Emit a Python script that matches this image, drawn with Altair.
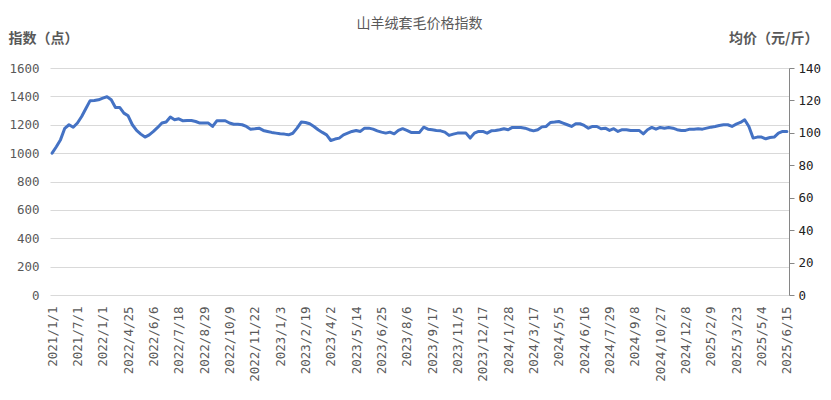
import altair as alt
import pandas as pd

tick_labels = ["2021/1/1", "2021/7/1", "2022/1/1", "2022/4/25", "2022/6/6", "2022/7/18",
               "2022/8/29", "2022/10/9", "2022/11/22", "2023/1/3", "2023/2/19", "2023/4/2",
               "2023/5/14", "2023/6/25", "2023/8/6", "2023/9/17", "2023/11/5", "2023/12/17",
               "2024/1/28", "2024/3/17", "2024/5/5", "2024/6/16", "2024/7/29", "2024/9/8",
               "2024/10/27", "2024/12/8", "2025/2/9", "2025/3/23", "2025/5/4", "2025/6/15"]

index_values = [
    1000, 1045, 1095, 1175, 1200, 1182, 1212, 1258, 1315, 1370,
    1371, 1376, 1388, 1397, 1376, 1322, 1322, 1282, 1263, 1200,
    1160, 1134, 1113, 1129, 1153, 1181, 1212, 1219, 1254, 1235,
    1242, 1228, 1230, 1230, 1223, 1212, 1212, 1212, 1188, 1228,
    1228, 1228, 1212, 1204, 1204, 1200, 1188, 1169, 1172, 1176,
    1160, 1153, 1146, 1141, 1136, 1134, 1129, 1140, 1176, 1219,
    1216, 1207, 1188, 1165, 1146, 1129, 1089, 1099, 1106, 1129,
    1141, 1153, 1160, 1153, 1176, 1176, 1169, 1157, 1148, 1141,
    1148, 1136, 1160, 1172, 1160, 1146, 1146, 1146, 1183, 1169,
    1165, 1160, 1157, 1148, 1125, 1134, 1141, 1141, 1141, 1106,
    1141, 1153, 1153, 1141, 1157, 1160, 1165, 1172, 1165, 1181,
    1181, 1181, 1176, 1165, 1157, 1165, 1185, 1188, 1216, 1219,
    1223, 1212, 1200, 1188, 1207, 1207, 1195, 1176, 1188, 1188,
    1172, 1176, 1160, 1172, 1153, 1165, 1165, 1160, 1160, 1160,
    1136, 1165, 1181, 1169, 1181, 1176, 1181, 1176, 1165, 1160,
    1160, 1169, 1169, 1172, 1169, 1176, 1183, 1188, 1195, 1200,
    1200, 1188, 1204, 1216, 1235, 1188, 1106, 1113, 1113, 1101,
    1110, 1113, 1141, 1153, 1153,
]

label_step = 6
left_ticks = list(range(0, 1601, 200))
right_ticks = list(range(0, 141, 20))

df = pd.DataFrame({"i": list(range(len(index_values))), "v": index_values})

label_js = "[" + ",".join("'" + s + "'" for s in tick_labels) + "][datum.value / 6]"

FONT_CJK = "Noto Sans CJK SC"
FONT_NUM = "DejaVu Sans Mono"
GRAY = "#595959"

x_enc = alt.X(
    "i:Q",
    scale=alt.Scale(domain=[-0.5, len(index_values) - 0.5], nice=False, zero=False),
    axis=alt.Axis(
        values=[k * label_step for k in range(len(tick_labels))],
        labelExpr=label_js,
        labelAngle=-90,
        labelFont=FONT_NUM,
        labelFontSize=12.5,
        labelColor=GRAY,
        labelPadding=11,
        ticks=False,
        domain=False,
        grid=False,
        title=None,
        labelOverlap=False,
    ),
)

line = alt.Chart(df).mark_line(color="#4472C4", strokeWidth=3, strokeJoin="round", strokeCap="round").encode(
    x=x_enc,
    y=alt.Y(
        "v:Q",
        scale=alt.Scale(domain=[0, 1600], nice=False),
        axis=alt.Axis(
            values=left_ticks,
            format="d",
            title="指数（点）",
            titleAngle=0,
            titleX=-42,
            titleY=-30,
            titleAlign="left",
            titleBaseline="middle",
            titleFont=FONT_CJK,
            titleFontSize=14,
            titleFontWeight="bold",
            titleColor=GRAY,
            labelFont=FONT_NUM,
            labelFontSize=12.5,
            labelColor=GRAY,
            labelPadding=11,
            ticks=False,
            domain=False,
            grid=True,
            gridColor="#d9d9d9",
            gridWidth=1,
        ),
    ),
)

right = alt.Chart(df).mark_rule(opacity=0).encode(
    y=alt.datum(
        0,
        type="quantitative",
        scale=alt.Scale(domain=[0, 140], nice=False),
        axis=alt.Axis(
            orient="right",
            values=right_ticks,
            format="d",
            title="均价（元/斤）",
            titleAngle=0,
            titleX=29,
            titleY=-30,
            titleAlign="right",
            titleBaseline="middle",
            titleFont=FONT_CJK,
            titleFontSize=14,
            titleFontWeight="bold",
            titleColor=GRAY,
            labelFont=FONT_NUM,
            labelFontSize=12.5,
            labelColor="#222222",
            labelPadding=4,
            ticks=True,
            tickSize=5,
            tickColor="#868686",
            domain=True,
            domainColor="#868686",
            grid=False,
        ),
    )
)

chart = (
    alt.layer(line, right)
    .resolve_scale(y="independent")
    .properties(
        width=739,
        height=227,
        autosize=alt.AutoSizeParams(type="none"),
        padding={"left": 42, "top": 60, "right": 33, "bottom": 90},
        title=alt.TitleParams(
            "山羊绒套毛价格指数",
            font=FONT_CJK,
            fontSize=14,
            fontWeight="normal",
            color=GRAY,
            anchor="middle",
            offset=0,
        ),
    )
    .configure_view(stroke=None)
)

chart.save("out.html", embed_options={"renderer": "svg", "actions": False})
